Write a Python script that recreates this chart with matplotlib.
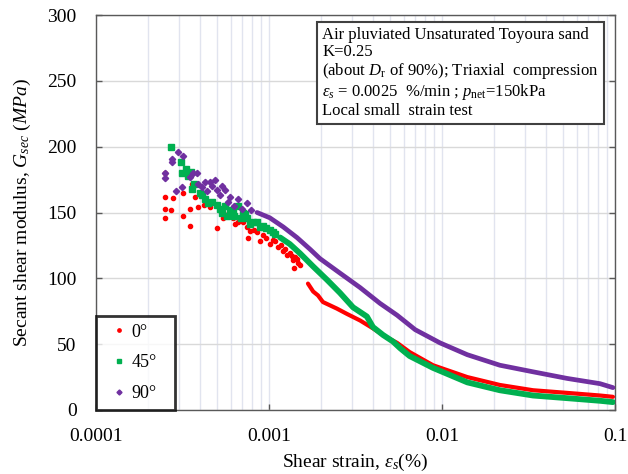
import matplotlib
matplotlib.use("Agg")
import matplotlib.pyplot as plt
from matplotlib.ticker import FixedLocator, LogLocator, NullFormatter, FixedFormatter

plt.rcParams['font.family'] = ['Liberation Serif', 'DejaVu Serif']
plt.rcParams['mathtext.fontset'] = 'custom'
plt.rcParams['mathtext.rm'] = 'Liberation Serif'
plt.rcParams['mathtext.it'] = 'Liberation Serif:italic'
plt.rcParams['mathtext.bf'] = 'Liberation Serif:bold'

# ---------------- data (strain in %, Gsec in MPa) ----------------
# 0 deg: scattered early points
red_scatter_strain = [2.50e-4, 2.50e-4, 2.79e-4, 2.50e-4, 2.71e-4, 2.50e-4, 3.18e-4, 3.59e-4,
                      3.18e-4, 3.49e-4, 3.49e-4, 3.73e-4, 3.89e-4, 4.21e-4, 4.27e-4, 4.56e-4,
                      5.00e-4, 5.35e-4, 5.42e-4, 5.71e-4, 6.19e-4, 6.60e-4, 7.07e-4, 7.46e-4,
                      7.57e-4, 8.20e-4, 8.53e-4, 8.87e-4, 9.23e-4, 1.01e-3, 1.05e-3, 1.13e-3,
                      1.21e-3, 1.27e-3, 1.32e-3, 1.38e-3, 1.45e-3, 1.51e-3, 5.80e-4, 6.40e-4,
                      6.90e-4, 7.80e-4, 9.60e-4, 1.09e-3, 1.17e-3, 1.24e-3, 1.35e-3, 1.42e-3,
                      1.48e-3, 1.40e-3]
red_scatter_G = [180, 162, 161, 153, 152, 146, 165, 172,
                 147, 153, 140, 162, 154, 156, 161, 154,
                 138, 150, 146, 147, 146, 143, 143, 139,
                 131, 137, 135, 128, 133, 126, 129, 124,
                 121, 118, 119, 114, 115, 110, 149, 141,
                 145, 136, 131, 128, 125, 122, 117, 116,
                 112, 108]
# 0 deg: dense band
red_band_strain = [1.68e-3, 1.80e-3, 1.92e-3, 2.05e-3, 2.47e-3, 2.82e-3, 3.36e-3, 3.99e-3,
                   4.81e-3, 5.50e-3, 6.50e-3, 8.87e-3, 1.40e-2, 2.16e-2, 3.36e-2, 5.28e-2,
                   8.19e-2, 9.73e-2]
red_band_G = [96, 90, 87, 82, 77, 73, 68, 62,
              55, 51, 44, 34, 25, 19, 15, 13,
              11, 10]

# 45 deg
green_scatter_strain = [2.71e-4, 3.10e-4, 3.14e-4, 3.40e-4, 3.54e-4, 3.59e-4, 3.99e-4, 4.27e-4,
                        4.44e-4, 5.00e-4, 5.35e-4, 5.57e-4, 5.95e-4, 6.19e-4, 6.60e-4, 7.07e-4,
                        7.46e-4, 7.77e-4, 8.53e-4, 9.23e-4, 1.01e-3, 1.08e-3, 3.30e-4, 3.70e-4,
                        4.10e-4, 4.70e-4, 5.20e-4, 5.70e-4, 6.30e-4, 6.90e-4, 7.30e-4, 8.10e-4,
                        8.90e-4, 9.60e-4, 1.05e-3]
green_scatter_G = [200, 188, 180, 178, 181, 168, 165, 160,
                   157, 156, 150, 155, 152, 150, 155, 150,
                   146, 141, 143, 140, 137, 134, 183, 172,
                   163, 158, 153, 147, 147, 146, 149, 143,
                   139, 138, 135]
green_band_strain = [1.16e-3, 1.32e-3, 1.51e-3, 1.80e-3, 2.16e-3, 2.57e-3, 3.06e-3, 3.68e-3,
                     3.99e-3, 4.56e-3, 5.21e-3, 5.72e-3, 6.50e-3, 8.87e-3, 1.40e-2, 2.16e-2,
                     3.36e-2, 5.28e-2, 8.19e-2, 9.73e-2]
green_band_G = [131, 126, 119, 109, 99, 89, 78, 71,
                63, 57, 52, 47, 41, 32, 21, 15,
                11, 9, 7, 6]

# 90 deg
purple_scatter_strain = [2.50e-4, 2.50e-4, 2.75e-4, 2.75e-4, 2.90e-4, 2.98e-4, 3.14e-4, 3.18e-4,
                         3.64e-4, 3.84e-4, 3.89e-4, 4.27e-4, 4.38e-4, 4.56e-4, 4.88e-4, 5.00e-4,
                         5.35e-4, 5.57e-4, 5.95e-4, 6.60e-4, 7.46e-4, 3.50e-4, 4.10e-4, 4.70e-4,
                         5.20e-4, 5.80e-4, 6.30e-4, 7.00e-4, 7.90e-4]
purple_scatter_G = [180, 176, 191, 188, 166, 196, 169, 193,
                    180, 180, 172, 173, 166, 173, 175, 167,
                    170, 167, 162, 160, 157, 177, 169, 170,
                    163, 158, 155, 153, 152]
purple_band_strain = [8.53e-4, 1.01e-3, 1.21e-3, 1.45e-3, 1.73e-3, 1.97e-3, 2.57e-3, 3.36e-3,
                      4.38e-3, 5.50e-3, 7.00e-3, 9.73e-3, 1.40e-2, 2.16e-2, 3.36e-2, 5.28e-2,
                      8.19e-2, 9.73e-2]
purple_band_G = [150, 146, 139, 131, 122, 115, 104, 93,
                 81, 72, 61, 51, 42, 34, 29, 24,
                 20, 17]

labels = ['0°', '45°', '90°']
colors = ['#ff0000', '#00b050', '#7030a0']
markers = ['o', 's', 'D']
msizes = [3.0, 4.2, 3.2]
band_lw = [3.0, 4.2, 3.4]

x_ticks = [0.0001, 0.001, 0.01, 0.1]
x_ticklabels = ['0.0001', '0.001', '0.01', '0.1']
y_ticks = [0, 50, 100, 150, 200, 250, 300]

series = [
    (red_scatter_strain, red_scatter_G, red_band_strain, red_band_G),
    (green_scatter_strain, green_scatter_G, green_band_strain, green_band_G),
    (purple_scatter_strain, purple_scatter_G, purple_band_strain, purple_band_G),
]

fig = plt.figure(figsize=(6.28, 4.74), dpi=100)
ax = fig.add_axes([96/628, 1 - 410/474, (615-96)/628, (410-15)/474])

ax.set_xscale('log')
ax.set_xlim(0.0001, 0.1)
ax.set_ylim(0, 300)

handles = []
for (sx, sy, bx, by), lab, c, m, ms, lw in zip(series, labels, colors, markers, msizes, band_lw):
    ax.plot(sx, sy, linestyle='none', marker=m, ms=ms, color=c, mec=c, zorder=3)
    ax.plot(bx, by, linestyle='-', lw=lw, color=c, solid_capstyle='round',
            solid_joinstyle='round', zorder=3)
    h, = ax.plot([], [], linestyle='none', marker=m, ms=ms * 0.8, color=c, label=lab)
    handles.append(h)

# grid
ax.xaxis.set_major_locator(FixedLocator(x_ticks))
ax.xaxis.set_major_formatter(FixedFormatter(x_ticklabels))
ax.xaxis.set_minor_locator(LogLocator(base=10, subs=range(2, 10)))
ax.xaxis.set_minor_formatter(NullFormatter())
ax.yaxis.set_major_locator(FixedLocator(y_ticks))
ax.grid(True, axis='x', which='both', color='#e1e4ef', lw=1.0, zorder=0)
ax.grid(True, axis='y', which='major', color='#d9d9d9', lw=1.0, zorder=0)
ax.set_axisbelow(True)

ax.tick_params(axis='both', which='major', direction='in', length=4, width=1,
               labelsize=14, top=False, right=True, color='#595959')
ax.tick_params(axis='x', which='major', pad=13)
ax.tick_params(axis='y', which='major', pad=14)
ax.tick_params(axis='both', which='minor', length=0)
for s in ax.spines.values():
    s.set_color('#595959')
    s.set_linewidth(1.0)

ax.set_xlabel('Shear strain, $\\varepsilon_s$(%)', fontsize=14, labelpad=5)
ax.set_ylabel('Secant shear modulus, $G_{sec}$ $(MPa)$', fontsize=14, labelpad=10)

info = ('Air pluviated Unsaturated Toyoura sand\n'
        'K=0.25\n'
        '(about $D_\\mathrm{r}$ of 90%); Triaxial  compression\n'
        '$\\varepsilon_s$ = 0.0025  %/min ; $p_\\mathrm{net}$=150kPa\n'
        'Local small  strain test')
ax.text(0.436, 0.97, info, transform=ax.transAxes, fontsize=12, va='top', ha='left',
        linespacing=1.08, zorder=5,
        bbox=dict(boxstyle='square,pad=0.3', fc='white', ec='#404040', lw=1.5))

leg = ax.legend(handles=handles, loc='lower left', bbox_to_anchor=(0.0, 0.0, (175-96)/519, 0.24),
                mode='expand', borderaxespad=0.0, fontsize=13, frameon=True, fancybox=False,
                handlelength=1.7, handletextpad=-0.2, labelspacing=0.75,
                borderpad=0.45, numpoints=1)
leg.get_frame().set_edgecolor('black')
leg.get_frame().set_linewidth(2.0)
leg.set_zorder(6)

fig.savefig('out.png', dpi=100)
